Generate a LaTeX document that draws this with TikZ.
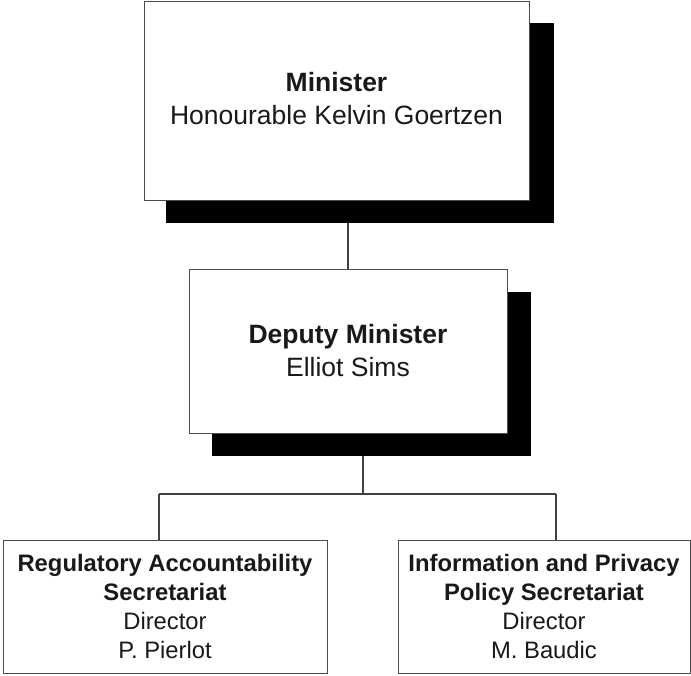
\documentclass[tikz,border=0pt]{standalone}
\usepackage{fontspec}
\setmainfont{Liberation Sans}
\begin{document}
\begin{tikzpicture}[x=1pt,y=-1pt,
  shadowbox/.style={fill=black,draw=none,inner sep=0,outer sep=0,anchor=north west},
  orgbox/.style={fill=white,draw=black!70,line width=1pt,inner sep=0,outer sep=0,anchor=north west},
  orgtext/.style={align=center,inner sep=0,text=black!90},
  bigtext/.style={orgtext,font=\fontsize{26.5}{32.5}\selectfont},
  smalltext/.style={orgtext,font=\fontsize{23.8}{29}\selectfont},
  link/.style={draw=black!75,line width=1.3pt}]
\useasboundingbox (0,0) rectangle (691,675);
% shadows
\node[shadowbox,minimum width=388,minimum height=200] (msh) at (166,23) {};
\node[shadowbox,minimum width=319,minimum height=164] (dsh) at (212,292) {};
% boxes
\node[orgbox,minimum width=385,minimum height=199] (mbox) at (144,1) {};
\node[orgbox,minimum width=318,minimum height=164] (dbox) at (189,269) {};
\node[orgbox,minimum width=324,minimum height=133] (lbox) at (3,540) {};
\node[orgbox,minimum width=292,minimum height=133] (rbox) at (398,540) {};
% texts
\node[bigtext] (mtext) at (336.5,98.5) {\textbf{Minister}\\Honourable Kelvin Goertzen};
\node[bigtext] (dtext) at (348,350.3) {\textbf{Deputy Minister}\\Elliot Sims};
\node[smalltext] (ltext) at (165,606) {\textbf{Regulatory Accountability}\\\textbf{Secretariat}\\Director\\P. Pierlot};
\node[smalltext] (rtext) at (544,606) {\textbf{Information and Privacy}\\\textbf{Policy Secretariat}\\Director\\M. Baudic};
% connectors
\coordinate (cm) at (348,0);
\coordinate (cd) at (363,0);
\coordinate (bar) at (0,494);
\coordinate (cl) at (159,0);
\coordinate (cr) at (556,0);
\draw[link] (msh.south -| cm) -- (dbox.north -| cm);
\draw[link] (dsh.south -| cd) -- (bar -| cd);
\draw[link] (bar -| cl) -- (bar -| cr);
\draw[link] (bar -| cl) -- (lbox.north -| cl);
\draw[link] (bar -| cr) -- (rbox.north -| cr);
\end{tikzpicture}
\end{document}
